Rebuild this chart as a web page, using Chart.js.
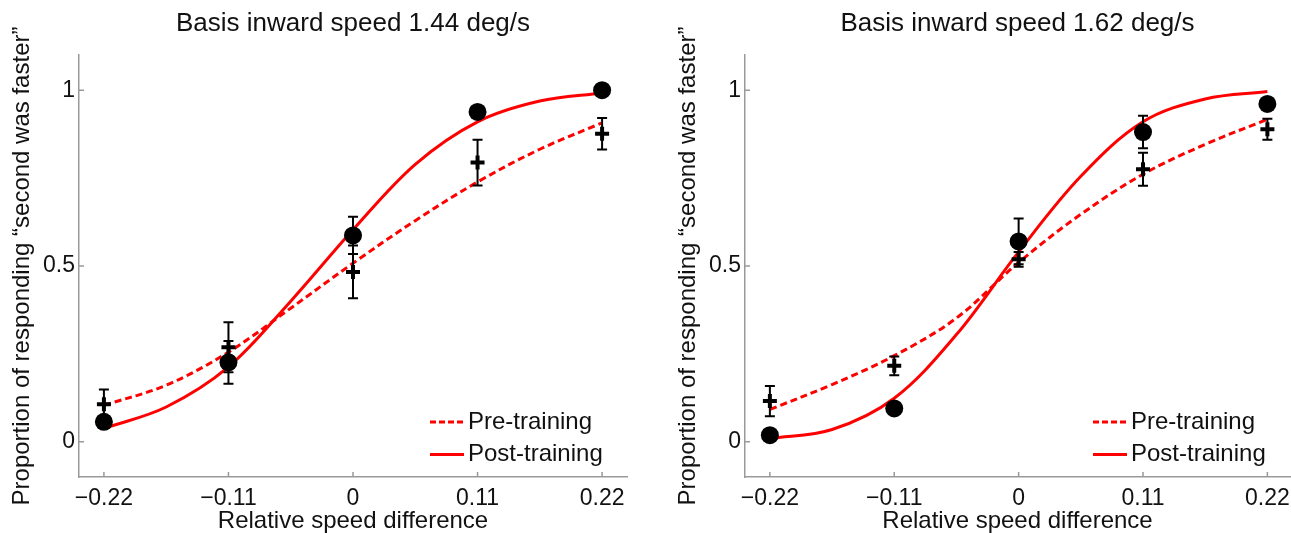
<!DOCTYPE html>
<html>
<head>
<meta charset="utf-8">
<script src="https://cdn.jsdelivr.net/npm/chart.js@4.4.1/dist/chart.umd.min.js"></script>
<style>
  html, body { margin: 0; padding: 0; background: #fff; }
  #wrap { position: relative; width: 1291px; height: 533px; overflow: hidden; }
  canvas { position: absolute; top: 0; }
  #left { left: 0; }
  #right { left: 645px; }
</style>
</head>
<body>
<div id="wrap">
  <canvas id="left" width="645" height="533"></canvas>
  <canvas id="right" width="646" height="533"></canvas>
</div>
<script>
// speed differences that were tested, and the axis ticks
const speeds = [-0.22, -0.11, 0, 0.11, 0.22];
const xTickLabels = ['\u22120.22', '\u22120.11', '0', '0.11', '0.22'];
const yTicks = [0, 0.5, 1];
const yTickLabels = ['0', '0.5', '1'];

// basis speed 1.44 deg/s: measured proportions and error bars
const pre144 = [0.107, 0.269, 0.483, 0.794, 0.876];
const preErr144 = [0.042, 0.071, 0.075, 0.065, 0.045];
const post144 = [0.057, 0.226, 0.587, 0.938, 1.0];
const postErr144 = [0.012, 0.061, 0.053, 0.012, 0];

// basis speed 1.62 deg/s
const pre162 = [0.116, 0.216, 0.519, 0.775, 0.889];
const preErr162 = [0.043, 0.027, 0.021, 0.047, 0.03];
const post162 = [0.019, 0.095, 0.570, 0.881, 0.961];
const postErr162 = [0.012, 0.012, 0.065, 0.046, 0.012];

// fitted psychometric curves, sampled along x
const fitX = [-0.22, -0.165, -0.11, -0.055, 0, 0.055, 0.11, 0.165, 0.22];
const preFit144 = [0.104, 0.161, 0.255, 0.38, 0.508, 0.629, 0.739, 0.832, 0.907];
const postFit144 = [0.038, 0.099, 0.213, 0.40, 0.603, 0.789, 0.910, 0.969, 0.992];
const preFit162 = [0.092, 0.163, 0.245, 0.352, 0.51, 0.647, 0.761, 0.846, 0.917];
const postFit162 = [0.009, 0.035, 0.124, 0.305, 0.54, 0.755, 0.91, 0.975, 0.996];

const RED = '#ff0000';
const AXIS = '#999999';
const FONT = "'Liberation Sans', Arial, Helvetica, sans-serif";
Chart.defaults.font.family = FONT;
Chart.defaults.color = '#111';

// error bars, inward tick marks and the in-plot legend
const decorations = {
  id: 'decorations',
  afterDatasetsDraw(chart, args, opts) {
    const ctx = chart.ctx;
    const xs = chart.scales.x, ys = chart.scales.y;
    ctx.save();
    ctx.strokeStyle = '#000';
    ctx.lineWidth = 2;
    opts.errors.forEach(({ values, errs }) => {
      values.forEach((v, i) => {
        if (!errs[i]) return;
        const px = xs.getPixelForValue(speeds[i]);
        const top = ys.getPixelForValue(v + errs[i]);
        const bot = ys.getPixelForValue(v - errs[i]);
        ctx.beginPath();
        ctx.moveTo(px, top); ctx.lineTo(px, bot);
        ctx.moveTo(px - 5, top); ctx.lineTo(px + 5, top);
        ctx.moveTo(px - 5, bot); ctx.lineTo(px + 5, bot);
        ctx.stroke();
      });
    });
    ctx.restore();
  },
  afterDraw(chart) {
    const ctx = chart.ctx;
    const area = chart.chartArea;
    const xs = chart.scales.x, ys = chart.scales.y;
    ctx.save();
    ctx.strokeStyle = AXIS;
    ctx.lineWidth = 1.5;
    ctx.beginPath();
    speeds.forEach(v => {
      const px = xs.getPixelForValue(v);
      ctx.moveTo(px, area.bottom); ctx.lineTo(px, area.bottom - 5);
    });
    yTicks.forEach(v => {
      const py = ys.getPixelForValue(v);
      ctx.moveTo(area.left, py); ctx.lineTo(area.left + 5, py);
    });
    ctx.stroke();

    // legend
    const x0 = area.right - 197, x1 = area.right - 163;
    const rows = [['Pre-training', [6, 3], area.bottom - 55], ['Post-training', [], area.bottom - 22.5]];
    ctx.font = '24px ' + FONT;
    ctx.textBaseline = 'middle';
    ctx.textAlign = 'left';
    rows.forEach(([text, dash, y]) => {
      ctx.strokeStyle = RED;
      ctx.lineWidth = 3;
      ctx.setLineDash(dash);
      ctx.beginPath();
      ctx.moveTo(x0, y); ctx.lineTo(x1, y);
      ctx.stroke();
      ctx.fillStyle = '#111';
      ctx.fillText(text, x1 + 4, y);
    });
    ctx.restore();
  }
};

function points(xs, ys) {
  return xs.map((x, i) => ({ x, y: ys[i] }));
}

function makeChart(id, cfg) {
  return new Chart(document.getElementById(id), {
    type: 'scatter',
    data: {
      datasets: [
        { label: 'Pre-training', data: points(fitX, cfg.preFit), showLine: true, borderColor: RED,
          borderWidth: 3, borderDash: [7, 4], pointRadius: 0, tension: 0.35, order: 3 },
        { label: 'Post-training', data: points(fitX, cfg.postFit), showLine: true, borderColor: RED,
          borderWidth: 3, pointRadius: 0, tension: 0.35, order: 2 },
        { label: 'Pre', data: points(speeds, cfg.pre), pointStyle: 'cross', pointRadius: 7,
          borderColor: '#000', borderWidth: 4, order: 1 },
        { label: 'Post', data: points(speeds, cfg.post), pointStyle: 'circle', pointRadius: 9,
          backgroundColor: '#000', borderColor: '#000', borderWidth: 0, order: 0 }
      ]
    },
    options: {
      responsive: false,
      animation: false,
      layout: { autoPadding: false, padding: { left: 0, right: cfg.padRight, top: 0, bottom: 0 } },
      plugins: {
        legend: { display: false },
        tooltip: { enabled: false },
        title: {
          display: true, text: cfg.title, fullSize: false, color: '#111',
          font: { size: 26, weight: 'normal', lineHeight: 1.2 },
          padding: { top: 8.5, bottom: 15.3 }
        },
        decorations: {
          errors: [
            { values: cfg.pre, errs: cfg.preErr },
            { values: cfg.post, errs: cfg.postErr }
          ]
        }
      },
      scales: {
        x: {
          type: 'linear', min: -0.242, max: cfg.xMax,
          grid: { display: false, drawTicks: false },
          border: { color: AXIS, width: 1.5 },
          afterBuildTicks: s => { s.ticks = speeds.map(v => ({ value: v })); },
          afterFit: s => { s.height = 56; s.paddingLeft = 0; s.paddingRight = 0; },
          ticks: { padding: 8, autoSkip: false, maxRotation: 0, color: '#111', font: { size: 23 },
                   callback: (v, i) => xTickLabels[i] },
          title: { display: true, text: 'Relative speed difference', color: '#111',
                   font: { size: 24, lineHeight: 1 }, padding: 0 }
        },
        y: {
          type: 'linear', min: -0.1, max: 1.1,
          grid: { display: false, drawTicks: false },
          border: { color: AXIS, width: 1.5 },
          afterBuildTicks: s => { s.ticks = yTicks.map(v => ({ value: v })); },
          afterFit: s => { s.width = cfg.yWidth; s.paddingTop = 0; s.paddingBottom = 0; },
          ticks: { padding: 4, color: '#111', font: { size: 23 }, callback: (v, i) => yTickLabels[i] },
          title: { display: true, text: 'Proportion of responding \u201csecond was faster\u201d', color: '#111',
                   font: { size: 24 }, padding: { top: cfg.yTitlePad, bottom: 0 } }
        }
      }
    },
    plugins: [decorations]
  });
}

makeChart('left', {
  title: 'Basis inward speed 1.44 deg/s',
  pre: pre144, preErr: preErr144, post: post144, postErr: postErr144,
  preFit: preFit144, postFit: postFit144,
  padRight: 18, xMax: 0.242, yWidth: 79, yTitlePad: 7.6
});

makeChart('right', {
  title: 'Basis inward speed 1.62 deg/s',
  pre: pre162, preErr: preErr162, post: post162, postErr: postErr162,
  preFit: preFit162, postFit: postFit162,
  padRight: 1, xMax: 0.24, yWidth: 100, yTitlePad: 28.6
});
</script>
</body>
</html>
